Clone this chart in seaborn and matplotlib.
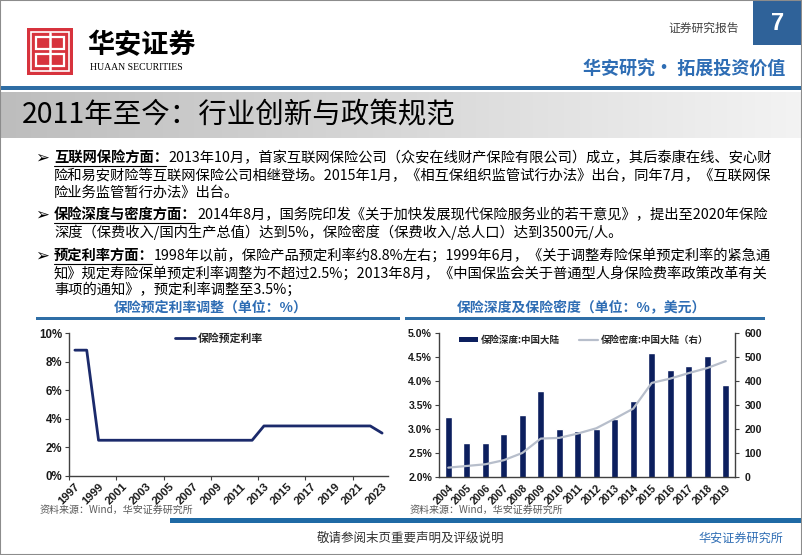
import numpy as np
import matplotlib
matplotlib.use("Agg")
import matplotlib.pyplot as plt
from matplotlib.patches import Rectangle, Patch
from matplotlib.lines import Line2D
from matplotlib.colors import LinearSegmentedColormap
import seaborn as sns

# ---- data ----
rate_years = [str(y) for y in range(1997, 2024)]
rate_values = [8.8, 8.8, 2.5, 2.5, 2.5, 2.5, 2.5, 2.5, 2.5, 2.5, 2.5, 2.5, 2.5, 2.5,
               2.5, 2.5, 3.5, 3.5, 3.5, 3.5, 3.5, 3.5, 3.5, 3.5, 3.5, 3.5, 3.0]

depth_years = [str(y) for y in range(2004, 2020)]
depth_values = [3.26, 2.70, 2.70, 2.90, 3.30, 3.80, 3.00, 2.96, 3.00, 3.21, 3.58,
                4.58, 4.23, 4.31, 4.52, 3.91]
density_values = [39, 46, 53, 70, 100, 160, 163, 181, 203, 243, 285,
                  392, 410, 433, 454, 483]

rate_ticks = [0, 2, 4, 6, 8, 10]
depth_ticks = [2.0, 2.5, 3.0, 3.5, 4.0, 4.5, 5.0]
density_ticks = [0, 100, 200, 300, 400, 500, 600]

# ---- style ----
W, H = 802, 555
NAVY = "#1B2A6B"
BAR_NAVY = "#0C1F5E"
LINE_GRAY = "#B7BECB"
BLUE = "#2E6DB4"
BAR_BLUE = "#2F6EA6"
AXIS = "#404040"

sns.set_theme(style="white")
CJK = ["Noto Sans CJK SC", "DejaVu Sans"]
NUM = ["Liberation Sans", "DejaVu Sans"]
plt.rcParams["font.family"] = CJK

fig = plt.figure(figsize=(W / 100, H / 100), dpi=100)


def fx(x):
    return x / W


def fy(y):
    return 1 - y / H


def text(x, y, s, **kw):
    kw.setdefault("va", "center")
    return fig.text(fx(x), fy(y), s, **kw)


def rect(x0, y0, x1, y1, color, fill=True, lw=0):
    fig.add_artist(Rectangle((fx(x0), fy(y1)), fx(x1) - fx(x0), fy(y0) - fy(y1),
                             transform=fig.transFigure,
                             facecolor=color if fill else "none",
                             edgecolor="none" if fill else color, lw=lw))


def line(x0, y0, x1, y1, color, lw):
    fig.add_artist(Line2D([fx(x0), fx(x1)], [fy(y0), fy(y1)],
                          transform=fig.transFigure, color=color, lw=lw))


# ---- header ----
rect(27, 28, 73, 75, "#D7333D")
rect(31, 32, 69, 71, "white", fill=False, lw=1.2)
rect(36, 37, 64, 49, "white", fill=False, lw=1.6)
rect(36, 54, 64, 66, "white", fill=False, lw=1.6)
line(50, 33, 50, 70, "white", 1.8)
text(87, 45, "华安证券", fontsize=19.5, fontweight="bold", color="black")
text(90, 68, "HUAAN SECURITIES", fontsize=7, fontfamily="Liberation Serif", color="black")
text(668, 28, "证券研究报告", fontsize=8.5, color="#404040")
rect(753, 0, 802, 45, "#2F6299")
text(777.5, 23, "7", fontsize=17, fontweight="bold", fontfamily=NUM,
     color="white", ha="center")
text(785, 69, "华安研究• 拓展投资价值", fontsize=13, fontweight="bold",
     color=BLUE, ha="right")
rect(0, 86.5, 802, 90, "#2E6DA4")

# ---- title band ----
ax_band = fig.add_axes([0, fy(138), 1, (138 - 92) / H])
band_cmap = LinearSegmentedColormap.from_list("band", ["#BDBDBD", "#F3F3F3"])
ax_band.imshow(np.linspace(0, 1, 256)[None, :], aspect="auto", cmap=band_cmap,
               extent=[0, 1, 0, 1])
ax_band.axis("off")
text(22, 115, "2011年至今：行业创新与政策规范", fontsize=20.5, color="black")

# ---- bullet text ----
FS = 10.3
EM = FS * 100 / 72
X0 = 54
body = [
    (158, True, "互联网保险方面：",
     "2013年10月，首家互联网保险公司（众安在线财产保险有限公司）成立，其后泰康在线、安心财"),
    (176, False, None,
     "险和易安财险等互联网保险公司相继登场。2015年1月，《相互保组织监管试行办法》出台，同年7月，《互联网保"),
    (193, False, None, "险业务监管暂行办法》出台。"),
    (215, True, "保险深度与密度方面：",
     "2014年8月，国务院印发《关于加快发展现代保险服务业的若干意见》，提出至2020年保险"),
    (232, False, None,
     "深度（保费收入/国内生产总值）达到5%，保险密度（保费收入/总人口）达到3500元/人。"),
    (256, True, "预定利率方面：",
     "1998年以前，保险产品预定利率约8.8%左右；1999年6月，《关于调整寿险保单预定利率的紧急通"),
    (273, False, None,
     "知》规定寿险保单预定利率调整为不超过2.5%；2013年8月，《中国保监会关于普通型人身保险费率政策改革有关"),
    (290, False, None, "事项的通知》，预定利率调整至3.5%；"),
]
for y, bullet, head, rest in body:
    x = X0
    if bullet:
        text(35, y, "➢", fontsize=12, fontweight="bold",
             fontfamily=["DejaVu Sans"], color="black")
    if head:
        text(x, y, head, fontsize=FS, fontweight="bold", color="black")
        w = len(head) * EM
        line(x, y + 8, x + w - 2, y + 8, "black", 0.8)
        x += w
    text(x, y, rest, fontsize=FS, color="black")

# ---- chart titles and rules ----
text(211, 308, "保险预定利率调整（单位：%）", fontsize=10, fontweight="bold",
     color=BLUE, ha="center")
text(581, 308, "保险深度及保险密度（单位：%，美元）", fontsize=10, fontweight="bold",
     color=BLUE, ha="center")
rect(36, 317, 400, 320, BAR_BLUE)
rect(405, 317, 765, 320, BAR_BLUE)

TICK_FONT = {"fontfamily": NUM, "fontweight": "bold", "color": "#1A1A1A"}

# ---- left chart: pricing rate ----
ax1 = fig.add_axes([fx(69), fy(476), (388 - 69) / W, (476 - 333) / H])
sns.lineplot(x=np.arange(len(rate_years)), y=rate_values, ax=ax1,
             color=NAVY, lw=2.0, label="保险预定利率")
ax1.set_xlim(-0.5, len(rate_years) - 0.5)
ax1.set_ylim(0, 10)
ax1.set_yticks(rate_ticks)
ax1.set_yticklabels([f"{v}%" for v in rate_ticks], fontsize=8.3, **TICK_FONT)
ax1.set_xticks(np.arange(0, len(rate_years), 2))
ax1.set_xticklabels(rate_years[::2], rotation=45, ha="right", va="top",
                    rotation_mode="anchor", fontsize=8.2, **TICK_FONT)
ax1.set_xticks(np.arange(-0.5, len(rate_years), 4), minor=True)
ax1.tick_params(axis="x", which="major", length=0, pad=4)
ax1.tick_params(axis="x", which="minor", length=3, width=0.8, color=AXIS,
                direction="out", bottom=True)
ax1.tick_params(axis="y", length=3, width=0.8, color=AXIS, direction="out",
                left=True, pad=2)
ax1.set_xlabel("")
ax1.set_ylabel("")
for s in ["top", "right"]:
    ax1.spines[s].set_visible(False)
for s in ["left", "bottom"]:
    ax1.spines[s].set_color(AXIS)
    ax1.spines[s].set_linewidth(1.0)
ax1.legend(loc="center", bbox_to_anchor=(0.469, 0.965), frameon=False,
           handlelength=1.9, handletextpad=0.2,
           prop={"family": CJK, "weight": "bold", "size": 7.8})

# ---- right chart: depth and density ----
ax2 = fig.add_axes([fx(439), fy(477), (735 - 439) / W, (477 - 333) / H])
sns.barplot(x=depth_years, y=depth_values, ax=ax2, color=BAR_NAVY,
            width=0.36, saturation=1)
ax3 = ax2.twinx()
sns.lineplot(x=np.arange(len(depth_years)), y=density_values, ax=ax3,
             color=LINE_GRAY, lw=1.6)
ax2.set_xlim(-0.5, len(depth_years) - 0.5)
ax2.set_ylim(2, 5)
ax3.set_ylim(0, 600)
ax2.set_yticks(depth_ticks)
ax2.set_yticklabels([f"{v:.1f}%" for v in depth_ticks], fontsize=7.6, **TICK_FONT)
ax3.set_yticks(density_ticks)
ax3.set_yticklabels([str(v) for v in density_ticks], fontsize=7.6, **TICK_FONT)
ax2.set_xticks(np.arange(len(depth_years)))
ax2.set_xticklabels(depth_years, rotation=45, ha="right", va="top",
                    rotation_mode="anchor", fontsize=7.6, **TICK_FONT)
ax2.tick_params(axis="x", length=0, pad=4)
ax2.tick_params(axis="y", length=3, width=0.8, color=AXIS, direction="out",
                left=True, pad=2)
ax3.tick_params(axis="y", length=3, width=0.8, color=AXIS, direction="out",
                right=True, pad=4)
for a in (ax2, ax3):
    a.set_xlabel("")
    a.set_ylabel("")
    a.spines["top"].set_visible(False)
ax2.spines["right"].set_visible(False)
ax3.spines["left"].set_visible(False)
ax3.spines["bottom"].set_visible(False)
for a, s in [(ax2, "left"), (ax2, "bottom"), (ax3, "right")]:
    a.spines[s].set_color(AXIS)
    a.spines[s].set_linewidth(1.0)
handles = [Patch(facecolor=BAR_NAVY, edgecolor="none"),
           Line2D([], [], color=LINE_GRAY, lw=1.6)]
ax3.legend(handles, ["保险深度:中国大陆", "保险密度:中国大陆（右）"], ncol=2,
           loc="center", bbox_to_anchor=(0.488, 0.951), frameon=False,
           handlelength=2.0, handleheight=0.5, handletextpad=0.3,
           columnspacing=2.0,
           prop={"family": CJK, "weight": "bold", "size": 6.8})

# ---- sources and footer ----
text(40, 510, "资料来源：Wind，华安证券研究所", fontsize=7.2, color="#595959")
text(410, 510, "资料来源：Wind，华安证券研究所", fontsize=7.2, color="#595959")
rect(170, 518, 802, 522.5, "#1F6AA5")
text(410, 538, "敬请参阅末页重要声明及评级说明", fontsize=9, color="#333333",
     ha="center")
text(783, 538, "华安证券研究所", fontsize=8.7, color=BLUE, ha="right")

# outer frame
fig.add_artist(Rectangle((0, 0), 1, 1, transform=fig.transFigure,
                         facecolor="none", edgecolor="#8C8C8C", lw=1.5))

fig.savefig("out.png", dpi=100)
